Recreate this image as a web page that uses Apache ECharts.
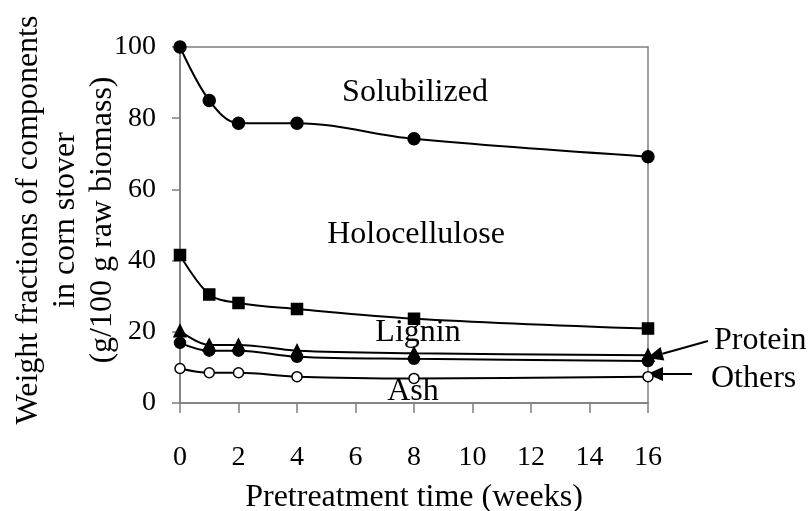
<!DOCTYPE html>
<html>
<head>
<meta charset="utf-8">
<script src="https://cdn.jsdelivr.net/npm/echarts@6/dist/echarts.min.js"></script>
<style>
  html, body { margin: 0; background: #fff; }
  #chart { width: 810px; height: 511px; }
</style>
</head>
<body>
<div id="chart"></div>
<script>
// data
const weeks = [0, 1, 2, 4, 8, 16];
const solubilized = [100, 85, 78.6, 78.6, 74.2, 69.2];
const holocellulose = [41.6, 30.5, 28.1, 26.4, 23.7, 20.9];
const lignin = [20.3, 16.3, 16.3, 14.7, 14.0, 13.4];
const protein = [16.9, 14.7, 14.7, 13.0, 12.4, 11.8];
const others = [9.7, 8.5, 8.5, 7.4, 6.9, 7.4];
const xTicks = [0, 2, 4, 6, 8, 10, 12, 14, 16];
const yTicks = [0, 20, 40, 60, 80, 100];

const FONT = '"Liberation Serif", "Times New Roman", serif';
const AXIS_GRAY = "#7f7f7f";

const chart = echarts.init(document.getElementById("chart"));

function lineSeries(name, values, symbol, size, fill) {
  return {
    name: name,
    type: "line",
    data: weeks.map((w, i) => [w, values[i]]),
    smooth: 0.35,
    symbol: symbol,
    symbolSize: size,
    lineStyle: { color: "#000", width: 2 },
    itemStyle: { color: fill, borderColor: "#000", borderWidth: 1.5 },
    emphasis: { disabled: true },
  };
}

function label(text, x, y, align) {
  return {
    type: "text",
    x: x,
    y: y,
    style: {
      text: text,
      font: "32px " + FONT,
      fill: "#000",
      align: align || "center",
      verticalAlign: "middle",
    },
  };
}

// arrow from (x1,y1) to tip (x2,y2)
function arrow(x1, y1, x2, y2) {
  const ang = Math.atan2(y2 - y1, x2 - x1);
  const len = 16, half = 7;
  const bx = x2 - len * Math.cos(ang), by = y2 - len * Math.sin(ang);
  const px = -Math.sin(ang) * half, py = Math.cos(ang) * half;
  return [
    { type: "line", shape: { x1: x1, y1: y1, x2: bx, y2: by }, style: { stroke: "#000", lineWidth: 2 } },
    {
      type: "polygon",
      shape: { points: [[x2, y2], [bx + px, by + py], [bx - px, by - py]] },
      style: { fill: "#000" },
    },
  ];
}

const option = {
  animation: false,
  grid: {
    left: 180,
    right: 162,
    top: 47,
    bottom: 108,
    outerBoundsMode: "none",
    containLabel: false,
    show: true,
    borderColor: AXIS_GRAY,
    borderWidth: 1.5,
  },
  xAxis: {
    type: "value",
    min: xTicks[0],
    max: xTicks[xTicks.length - 1],
    interval: 2,
    name: "Pretreatment time (weeks)",
    nameLocation: "middle",
    nameGap: 79,
    nameMoveOverlap: false,
    nameTextStyle: { fontFamily: FONT, fontSize: 32, color: "#000" },
    axisLine: { lineStyle: { color: AXIS_GRAY, width: 1.5 } },
    axisTick: { show: true, length: 10, lineStyle: { color: AXIS_GRAY, width: 1.5 } },
    axisLabel: { fontFamily: FONT, fontSize: 28, color: "#000", margin: 41 },
    splitLine: { show: false },
  },
  yAxis: {
    type: "value",
    min: yTicks[0],
    max: yTicks[yTicks.length - 1],
    interval: 20,
    name: "Weight fractions of components\nin corn stover\n(g/100 g raw biomass)",
    nameLocation: "middle",
    nameRotate: 90,
    nameGap: 59,
    nameMoveOverlap: false,
    nameTextStyle: {
      fontFamily: FONT,
      fontSize: 32,
      color: "#000",
      lineHeight: 37,
      padding: [0, 0, 0, 10],
    },
    axisLine: { show: true, lineStyle: { color: AXIS_GRAY, width: 1.5 } },
    axisTick: { show: true, length: 8, lineStyle: { color: AXIS_GRAY, width: 1.5 } },
    axisLabel: { fontFamily: FONT, fontSize: 28, color: "#000", margin: 24 },
    splitLine: { show: false },
  },
  series: [
    lineSeries("Solubilized", solubilized, "circle", 12, "#000"),
    lineSeries("Holocellulose", holocellulose, "rect", 11, "#000"),
    lineSeries("Lignin", lignin, "triangle", 12, "#000"),
    lineSeries("Protein", protein, "circle", 11, "#000"),
    lineSeries("Others", others, "circle", 10, "#fff"),
  ],
  graphic: [
    label("Solubilized", 415, 93),
    label("Holocellulose", 416, 235),
    label("Lignin", 418, 333),
    label("Ash", 413, 392),
    label("Protein", 714, 341, "left"),
    label("Others", 711, 379, "left"),
    ...arrow(708, 341, 647, 358),
    ...arrow(692, 374, 647, 374),
  ],
};

chart.setOption(option);
</script>
</body>
</html>
